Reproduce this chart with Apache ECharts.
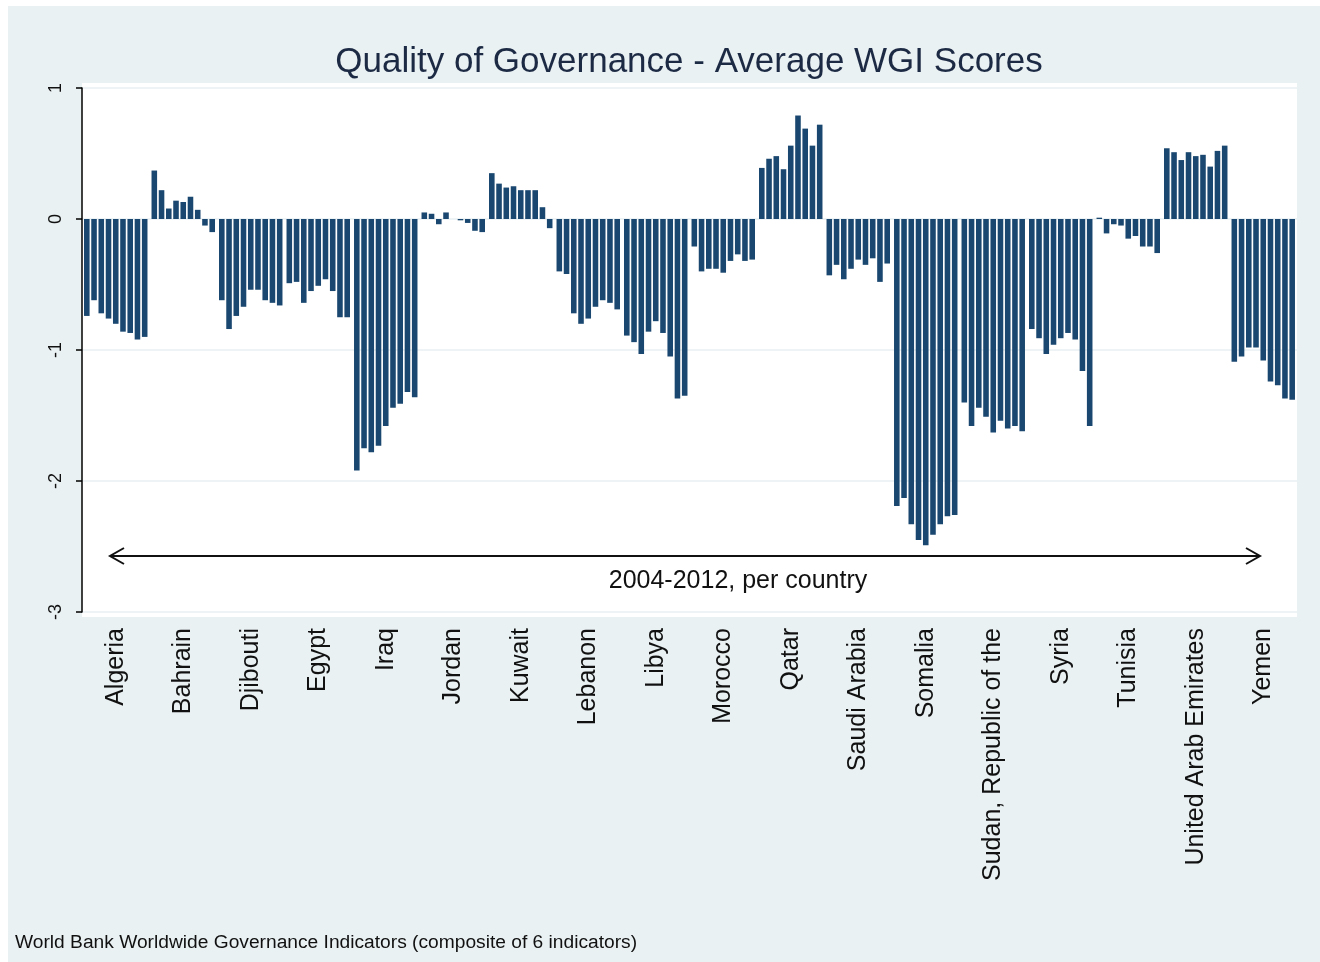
<!DOCTYPE html>
<html>
<head>
<meta charset="utf-8">
<title>Quality of Governance - Average WGI Scores</title>
<script src="https://cdn.jsdelivr.net/npm/echarts@6/dist/echarts.min.js"></script>
<style>
  html, body { margin: 0; padding: 0; background: #fff; }
  #main { position: absolute; left: 8px; top: 6px; width: 1312px; height: 956px; }
</style>
</head>
<body>
<div id="main"></div>
<script>
// average WGI score per country, 2004 .. 2012
const years = ['2004', '2005', '2006', '2007', '2008', '2009', '2010', '2011', '2012']
const countries = ['Algeria', 'Bahrain', 'Djibouti', 'Egypt', 'Iraq', 'Jordan', 'Kuwait', 'Lebanon', 'Libya',
  'Morocco', 'Qatar', 'Saudi Arabia', 'Somalia', 'Sudan, Republic of the', 'Syria', 'Tunisia',
  'United Arab Emirates', 'Yemen']

const algeria = [-0.74, -0.62, -0.72, -0.76, -0.80, -0.86, -0.87, -0.92, -0.90]
const bahrain = [0.37, 0.22, 0.08, 0.14, 0.13, 0.17, 0.07, -0.05, -0.10]
const djibouti = [-0.62, -0.84, -0.74, -0.67, -0.54, -0.54, -0.62, -0.64, -0.66]
const egypt = [-0.49, -0.48, -0.64, -0.55, -0.51, -0.46, -0.55, -0.75, -0.75]
const iraq = [-1.92, -1.75, -1.78, -1.73, -1.58, -1.44, -1.41, -1.32, -1.36]
const jordan = [0.05, 0.04, -0.04, 0.05, 0.0, -0.01, -0.03, -0.09, -0.10]
const kuwait = [0.35, 0.27, 0.24, 0.25, 0.22, 0.22, 0.22, 0.09, -0.07]
const lebanon = [-0.40, -0.42, -0.72, -0.80, -0.76, -0.67, -0.62, -0.64, -0.69]
const libya = [-0.89, -0.94, -1.03, -0.86, -0.78, -0.87, -1.05, -1.37, -1.35]
const morocco = [-0.21, -0.40, -0.38, -0.38, -0.41, -0.32, -0.27, -0.32, -0.31]
const qatar = [0.39, 0.46, 0.48, 0.38, 0.56, 0.79, 0.69, 0.56, 0.72]
const saudiArabia = [-0.43, -0.35, -0.46, -0.38, -0.31, -0.35, -0.30, -0.48, -0.34]
const somalia = [-2.19, -2.13, -2.33, -2.45, -2.49, -2.41, -2.33, -2.27, -2.26]
const sudan = [-1.40, -1.58, -1.44, -1.51, -1.63, -1.54, -1.60, -1.58, -1.62]
const syria = [-0.84, -0.91, -1.03, -0.96, -0.91, -0.87, -0.92, -1.16, -1.58]
const tunisia = [0.01, -0.11, -0.04, -0.05, -0.15, -0.13, -0.21, -0.21, -0.26]
const uae = [0.54, 0.51, 0.45, 0.51, 0.48, 0.49, 0.40, 0.52, 0.56]
const yemen = [-1.09, -1.05, -0.98, -0.98, -1.08, -1.24, -1.27, -1.37, -1.38]

const yTicks = [-3, -2, -1, 0, 1]

const scores = [algeria, bahrain, djibouti, egypt, iraq, jordan, kuwait, lebanon, libya,
  morocco, qatar, saudiArabia, somalia, sudan, syria, tunisia, uae, yemen]

const navy = '#1a476f'
const font = '"Liberation Sans", Arial, Helvetica, sans-serif'

// one series per year, so each country gets a cluster of 9 bars
let series = years.map((yr, i) => ({
  name: yr,
  type: 'bar',
  data: scores.map(c => c[i]),
  itemStyle: {color: navy},
  barGap: '30%',
  barCategoryGap: '6%',
  z: 3
}))

let chart = echarts.init(document.getElementById('main'))

const gridLeft = 74, gridTop = 82, gridW = 1215, gridH = 524

chart.setOption({
  backgroundColor: '#eaf1f3',
  animation: false,
  grid: {left: gridLeft, top: gridTop, width: gridW, height: gridH},
  xAxis: {
    type: 'category',
    data: countries,
    axisLine: {show: false},
    axisTick: {show: false},
    axisLabel: {
      interval: 0,
      rotate: 90,
      margin: 16,
      fontSize: 25,
      fontFamily: font,
      color: '#111',
      padding: [0, 0, 0, 0],
      offset: [0, 0]
    }
  },
  yAxis: {
    type: 'value',
    min: yTicks[0],
    max: yTicks[yTicks.length - 1],
    interval: 1,
    axisLine: {show: true, lineStyle: {color: '#000', width: 1.5}},
    axisTick: {show: true, length: 6, lineStyle: {color: '#000', width: 1.5}},
    axisLabel: {
      rotate: 90,
      margin: 17,
      fontSize: 18,
      fontFamily: font,
      color: '#111'
    },
    splitLine: {show: true, lineStyle: {color: '#e9f0f3', width: 1.5}}
  },
  series: series,
  graphic: [
    // white plot region, a bit taller than the axis range
    {type: 'rect', z: -1, shape: {x: gridLeft, y: gridTop - 5, width: gridW, height: gridH + 10},
      style: {fill: '#fff'}},
    {type: 'text', z: 10, style: {text: 'Quality of Governance - Average WGI Scores', x: 681, y: 56,
      textAlign: 'center', textVerticalAlign: 'middle', font: '35px ' + font, fill: '#1d2a44'}},
    // period arrow
    {type: 'line', z: 10, shape: {x1: 103, y1: 550, x2: 1251, y2: 550},
      style: {stroke: '#111', lineWidth: 2.2}},
    {type: 'polyline', z: 10, shape: {points: [[116, 542], [102, 550], [116, 558]]},
      style: {stroke: '#111', lineWidth: 2, fill: null}},
    {type: 'polyline', z: 10, shape: {points: [[1238, 542], [1252, 550], [1238, 558]]},
      style: {stroke: '#111', lineWidth: 2, fill: null}},
    {type: 'text', z: 10, style: {text: '2004-2012, per country', x: 730, y: 575,
      textAlign: 'center', textVerticalAlign: 'middle', font: '25px ' + font, fill: '#111'}},
    {type: 'text', z: 10, style: {text: 'World Bank Worldwide Governance Indicators (composite of 6 indicators)',
      x: 7, y: 937, textAlign: 'left', textVerticalAlign: 'middle', font: '19.2px ' + font, fill: '#111'}}
  ]
})
</script>
</body>
</html>
